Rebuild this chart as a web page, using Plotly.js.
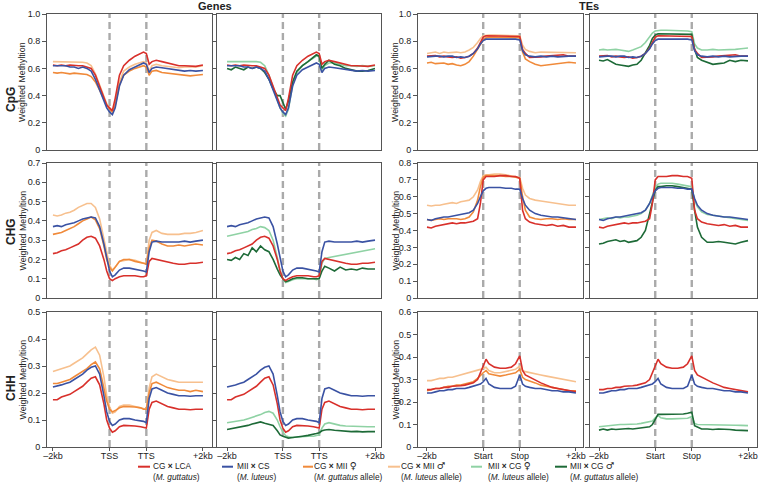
<!DOCTYPE html>
<html><head><meta charset="utf-8">
<script src="https://cdn.plot.ly/plotly-3.0.1.min.js"></script>
<style>html,body{margin:0;padding:0;background:#fff;} #chart{width:758px;height:483px;}</style>
</head><body><div id="chart"></div>
<script>
// ---------- x grids (bins: -2kb=0, TSS/Start=40, TTS/Stop=66, +2kb=106) ----------
const geneX = [0,3,6,9,12,15,18,21,24,27,30,33,36,38,40,42,44,47,50,54,58,62,64,66,68,70,73,77,81,85,89,93,97,101,106];
const teX   = [0,3,6,9,12,15,18,21,24,27,30,33,36,38,40,42,44,48,52,56,60,63,66,68,70,73,77,81,85,89,93,97,101,106];
const tickVals = [0,40,66,106];
const geneTickText = ['–2kb','TSS','TTS','+2kb'];
const teTickText = ['–2kb','Start','Stop','+2kb'];
const colTitles = ['Genes','TEs'];
const rowTitles = ['CpG','CHG','CHH'];

// ---------- Genes, CpG ----------
const gCpG_CGxLCA = [0.625,0.62,0.625,0.62,0.625,0.62,0.62,0.62,0.61,0.60,0.55,0.47,0.38,0.33,0.31,0.29,0.38,0.55,0.62,0.66,0.69,0.71,0.72,0.71,0.63,0.65,0.66,0.65,0.64,0.63,0.62,0.62,0.62,0.615,0.625];
const gCpG_MIIxCS = [0.62,0.62,0.615,0.62,0.61,0.61,0.60,0.61,0.60,0.58,0.52,0.44,0.35,0.31,0.28,0.26,0.31,0.47,0.55,0.59,0.61,0.63,0.64,0.63,0.57,0.60,0.61,0.605,0.60,0.59,0.585,0.58,0.585,0.58,0.585];
const gCpG_CGxMIIf = [0.57,0.565,0.57,0.565,0.56,0.565,0.56,0.56,0.555,0.54,0.50,0.44,0.37,0.33,0.30,0.28,0.33,0.48,0.55,0.58,0.60,0.615,0.62,0.61,0.55,0.58,0.585,0.57,0.565,0.56,0.555,0.55,0.545,0.55,0.555];
const gCpG_CGxMIIm = [0.65,0.65,0.65,0.65,0.645,0.65,0.65,0.645,0.64,0.62,0.56,0.48,0.39,0.34,0.31,0.28,0.34,0.50,0.58,0.61,0.63,0.645,0.65,0.64,0.58,0.62,0.63,0.62,0.615,0.61,0.605,0.61,0.61,0.61,0.62];
const gCpG_MIIxCGf = [0.65,0.65,0.655,0.65,0.65,0.655,0.65,0.65,0.645,0.62,0.55,0.46,0.37,0.31,0.27,0.25,0.30,0.48,0.57,0.62,0.65,0.68,0.69,0.69,0.58,0.62,0.64,0.64,0.63,0.62,0.62,0.615,0.62,0.615,0.62];
const gCpG_MIIxCGm = [0.60,0.59,0.61,0.60,0.59,0.61,0.60,0.61,0.60,0.57,0.52,0.45,0.40,0.40,0.35,0.30,0.36,0.50,0.58,0.62,0.65,0.68,0.70,0.69,0.60,0.63,0.66,0.63,0.62,0.60,0.59,0.58,0.58,0.585,0.60];

// ---------- Genes, CHG ----------
const gCHG_CGxLCA = [0.23,0.235,0.245,0.25,0.26,0.27,0.28,0.30,0.315,0.32,0.31,0.27,0.20,0.14,0.10,0.09,0.10,0.11,0.115,0.115,0.115,0.11,0.11,0.115,0.19,0.205,0.20,0.19,0.185,0.18,0.175,0.175,0.18,0.18,0.185];
const gCHG_MIIxCS = [0.37,0.375,0.37,0.38,0.385,0.39,0.40,0.41,0.415,0.42,0.415,0.37,0.28,0.20,0.14,0.11,0.12,0.145,0.155,0.155,0.15,0.145,0.14,0.135,0.24,0.29,0.295,0.29,0.29,0.29,0.29,0.295,0.29,0.295,0.30];
const gCHG_CGxMIIf = [0.33,0.335,0.34,0.35,0.36,0.37,0.385,0.40,0.41,0.42,0.405,0.36,0.27,0.20,0.16,0.14,0.16,0.19,0.20,0.20,0.19,0.185,0.18,0.175,0.26,0.30,0.295,0.28,0.27,0.27,0.275,0.27,0.275,0.28,0.275];
const gCHG_CGxMIIm = [0.43,0.425,0.43,0.44,0.445,0.455,0.47,0.48,0.49,0.49,0.47,0.41,0.31,0.23,0.17,0.145,0.16,0.19,0.195,0.20,0.195,0.185,0.18,0.18,0.30,0.34,0.35,0.335,0.33,0.33,0.33,0.335,0.335,0.34,0.35];
const gCHG_MIIxCGf = [0.32,0.325,0.33,0.335,0.34,0.345,0.355,0.36,0.37,0.365,0.35,0.30,0.21,0.14,0.10,0.08,0.085,0.095,0.10,0.10,0.10,0.10,0.095,0.10,0.18,0.205,0.21,0.215,0.22,0.225,0.23,0.235,0.24,0.245,0.255];
const gCHG_MIIxCGm = [0.20,0.195,0.21,0.20,0.23,0.22,0.26,0.24,0.27,0.25,0.24,0.20,0.15,0.12,0.10,0.085,0.09,0.10,0.105,0.105,0.10,0.10,0.10,0.10,0.14,0.165,0.155,0.14,0.16,0.145,0.15,0.145,0.155,0.15,0.15];

// ---------- Genes, CHH ----------
const gCHH_CGxLCA = [0.175,0.175,0.185,0.19,0.195,0.205,0.215,0.225,0.24,0.255,0.26,0.23,0.16,0.10,0.07,0.055,0.06,0.075,0.08,0.08,0.078,0.075,0.072,0.07,0.14,0.165,0.17,0.16,0.15,0.145,0.14,0.14,0.138,0.14,0.14];
const gCHH_MIIxCS = [0.222,0.225,0.23,0.235,0.24,0.25,0.26,0.27,0.285,0.295,0.30,0.27,0.19,0.13,0.095,0.08,0.085,0.10,0.105,0.105,0.10,0.098,0.095,0.09,0.18,0.215,0.22,0.21,0.20,0.195,0.19,0.19,0.188,0.19,0.19];
const gCHH_CGxMIIf = [0.235,0.235,0.24,0.245,0.25,0.26,0.27,0.28,0.29,0.305,0.315,0.29,0.22,0.17,0.14,0.13,0.135,0.145,0.15,0.15,0.148,0.145,0.14,0.14,0.20,0.235,0.24,0.23,0.22,0.215,0.21,0.21,0.205,0.21,0.205];
const gCHH_CGxMIIm = [0.28,0.285,0.29,0.295,0.30,0.31,0.32,0.33,0.345,0.36,0.37,0.34,0.26,0.19,0.15,0.125,0.13,0.15,0.155,0.155,0.15,0.145,0.142,0.14,0.22,0.26,0.27,0.26,0.25,0.245,0.24,0.24,0.24,0.24,0.24];
const gCHH_MIIxCGf = [0.09,0.092,0.095,0.098,0.10,0.105,0.11,0.115,0.12,0.128,0.132,0.125,0.10,0.075,0.055,0.042,0.038,0.035,0.037,0.038,0.04,0.04,0.042,0.045,0.07,0.085,0.09,0.085,0.08,0.078,0.077,0.075,0.075,0.075,0.075];
const gCHH_MIIxCGm = [0.065,0.068,0.07,0.072,0.075,0.08,0.085,0.09,0.093,0.088,0.085,0.08,0.06,0.045,0.04,0.035,0.033,0.035,0.038,0.04,0.043,0.046,0.05,0.053,0.06,0.063,0.065,0.062,0.06,0.058,0.057,0.058,0.056,0.057,0.057];

// ---------- TEs, CpG ----------
const tCpG_CGxLCA = [0.69,0.69,0.695,0.685,0.69,0.685,0.68,0.685,0.675,0.68,0.69,0.71,0.75,0.79,0.83,0.84,0.84,0.84,0.84,0.84,0.84,0.84,0.835,0.74,0.71,0.68,0.68,0.685,0.69,0.695,0.70,0.70,0.69,0.69];
const tCpG_MIIxCS = [0.685,0.69,0.69,0.69,0.685,0.69,0.69,0.68,0.685,0.68,0.69,0.71,0.745,0.78,0.805,0.815,0.815,0.815,0.815,0.82,0.815,0.815,0.81,0.73,0.70,0.69,0.685,0.69,0.685,0.69,0.685,0.69,0.69,0.69];
const tCpG_CGxMIIf = [0.64,0.645,0.635,0.64,0.64,0.63,0.635,0.625,0.62,0.63,0.65,0.69,0.74,0.78,0.81,0.825,0.83,0.83,0.83,0.83,0.83,0.83,0.825,0.72,0.67,0.65,0.63,0.62,0.625,0.63,0.635,0.64,0.645,0.64];
const tCpG_CGxMIIm = [0.71,0.715,0.72,0.71,0.72,0.715,0.72,0.72,0.715,0.72,0.735,0.755,0.79,0.82,0.84,0.845,0.845,0.845,0.845,0.845,0.845,0.845,0.84,0.77,0.74,0.725,0.715,0.72,0.72,0.715,0.72,0.715,0.72,0.715];
const tCpG_MIIxCGf = [0.735,0.74,0.735,0.74,0.74,0.735,0.73,0.725,0.735,0.745,0.76,0.79,0.83,0.86,0.875,0.88,0.88,0.88,0.88,0.88,0.875,0.875,0.87,0.78,0.75,0.735,0.735,0.74,0.735,0.735,0.735,0.74,0.745,0.75];
const tCpG_MIIxCGm = [0.66,0.655,0.665,0.645,0.63,0.625,0.62,0.615,0.625,0.63,0.66,0.71,0.77,0.82,0.845,0.855,0.855,0.855,0.855,0.855,0.855,0.85,0.85,0.74,0.68,0.66,0.645,0.63,0.635,0.64,0.66,0.65,0.66,0.655];

// ---------- TEs, CHG ----------
const tCHG_CGxLCA = [0.42,0.415,0.425,0.43,0.435,0.44,0.445,0.44,0.445,0.445,0.45,0.455,0.47,0.56,0.70,0.72,0.72,0.72,0.725,0.725,0.72,0.72,0.71,0.52,0.47,0.45,0.44,0.435,0.43,0.435,0.425,0.43,0.42,0.42];
const tCHG_MIIxCS = [0.465,0.46,0.47,0.475,0.48,0.48,0.485,0.49,0.495,0.50,0.505,0.52,0.56,0.60,0.635,0.65,0.655,0.655,0.655,0.65,0.65,0.645,0.645,0.59,0.55,0.52,0.50,0.49,0.485,0.48,0.48,0.475,0.47,0.465];
const tCHG_CGxMIIf = [0.465,0.46,0.465,0.47,0.465,0.47,0.47,0.47,0.465,0.47,0.48,0.51,0.58,0.66,0.715,0.725,0.725,0.725,0.725,0.72,0.72,0.715,0.71,0.60,0.52,0.48,0.47,0.465,0.47,0.47,0.465,0.47,0.465,0.465];
const tCHG_CGxMIIm = [0.55,0.545,0.55,0.55,0.555,0.56,0.565,0.56,0.57,0.575,0.58,0.60,0.64,0.69,0.725,0.73,0.73,0.735,0.735,0.73,0.725,0.72,0.715,0.65,0.61,0.59,0.58,0.575,0.57,0.565,0.56,0.555,0.55,0.55];
const tCHG_MIIxCGf = [0.465,0.47,0.475,0.47,0.48,0.475,0.48,0.48,0.485,0.49,0.50,0.52,0.56,0.61,0.655,0.675,0.68,0.68,0.68,0.675,0.67,0.665,0.66,0.58,0.54,0.51,0.495,0.49,0.485,0.48,0.475,0.47,0.465,0.46];
const tCHG_MIIxCGm = [0.32,0.325,0.335,0.34,0.345,0.335,0.34,0.33,0.335,0.34,0.36,0.40,0.50,0.58,0.64,0.66,0.66,0.665,0.665,0.66,0.655,0.65,0.645,0.52,0.42,0.36,0.33,0.33,0.335,0.33,0.325,0.32,0.33,0.34];

// ---------- TEs, CHH ----------
const tCHH_CGxLCA = [0.255,0.255,0.26,0.26,0.265,0.265,0.27,0.27,0.272,0.275,0.28,0.285,0.30,0.33,0.36,0.39,0.37,0.355,0.35,0.35,0.355,0.37,0.405,0.34,0.32,0.31,0.30,0.285,0.275,0.265,0.26,0.255,0.25,0.245];
const tCHH_MIIxCS = [0.24,0.24,0.245,0.25,0.25,0.255,0.255,0.26,0.26,0.26,0.265,0.27,0.275,0.28,0.29,0.305,0.28,0.265,0.26,0.26,0.26,0.27,0.32,0.28,0.27,0.265,0.26,0.26,0.255,0.25,0.25,0.245,0.245,0.24];
const tCHH_CGxMIIf = [0.25,0.255,0.26,0.26,0.265,0.27,0.27,0.275,0.275,0.28,0.285,0.29,0.305,0.32,0.33,0.34,0.325,0.32,0.315,0.32,0.325,0.33,0.345,0.31,0.30,0.295,0.285,0.275,0.27,0.265,0.26,0.255,0.25,0.25];
const tCHH_CGxMIIm = [0.295,0.295,0.30,0.305,0.305,0.31,0.31,0.315,0.32,0.325,0.33,0.335,0.34,0.345,0.35,0.355,0.34,0.33,0.33,0.335,0.34,0.345,0.36,0.34,0.335,0.33,0.325,0.32,0.315,0.31,0.305,0.30,0.295,0.29];
const tCHH_MIIxCGf = [0.09,0.092,0.095,0.097,0.10,0.10,0.10,0.10,0.10,0.102,0.105,0.108,0.11,0.115,0.13,0.14,0.13,0.125,0.125,0.125,0.126,0.128,0.135,0.105,0.10,0.10,0.10,0.10,0.10,0.10,0.098,0.097,0.096,0.095];
const tCHH_MIIxCGm = [0.075,0.08,0.075,0.08,0.078,0.08,0.08,0.082,0.08,0.082,0.085,0.087,0.09,0.10,0.125,0.145,0.145,0.145,0.147,0.145,0.147,0.15,0.155,0.095,0.09,0.08,0.08,0.078,0.08,0.08,0.078,0.075,0.075,0.073];

// ---------- series meta ----------
const FEM = '<span style="font-family:DejaVu Sans;font-size:9.5px">♀</span>';
const MAL = '<span style="font-family:DejaVu Sans;font-size:9.5px">♂</span>';
const seriesLabels = ['CG <b>×</b> LCA','MII <b>×</b> CS','CG <b>×</b> MII '+FEM,'CG <b>×</b> MII '+MAL,'MII <b>×</b> CG '+FEM,'MII <b>×</b> CG '+MAL];
const seriesSubLabels = ['(<i>M. guttatus</i>)','(<i>M. luteus</i>)','(<i>M. guttatus</i> allele)','(<i>M. luteus</i> allele)','(<i>M. luteus</i> allele)','(<i>M. guttatus</i> allele)'];
const colors = ['#d8302b','#3a52a3','#f08a3a','#f7c08e','#8fd2a4','#1d6a37'];

const yMax = [[1.0,1.0],[0.7,0.8],[0.5,0.6]];
const yStep = [[0.2,0.2],[0.1,0.1],[0.1,0.1]];
const data = {
  g: [
    [gCpG_CGxLCA,gCpG_MIIxCS,gCpG_CGxMIIf,gCpG_CGxMIIm,gCpG_MIIxCGf,gCpG_MIIxCGm],
    [gCHG_CGxLCA,gCHG_MIIxCS,gCHG_CGxMIIf,gCHG_CGxMIIm,gCHG_MIIxCGf,gCHG_MIIxCGm],
    [gCHH_CGxLCA,gCHH_MIIxCS,gCHH_CGxMIIf,gCHH_CGxMIIm,gCHH_MIIxCGf,gCHH_MIIxCGm]],
  t: [
    [tCpG_CGxLCA,tCpG_MIIxCS,tCpG_CGxMIIf,tCpG_CGxMIIm,tCpG_MIIxCGf,tCpG_MIIxCGm],
    [tCHG_CGxLCA,tCHG_MIIxCS,tCHG_CGxMIIf,tCHG_CGxMIIm,tCHG_MIIxCGf,tCHG_MIIxCGm],
    [tCHH_CGxLCA,tCHH_MIIxCS,tCHH_CGxMIIf,tCHH_CGxMIIm,tCHH_MIIxCGf,tCHH_MIIxCGm]]
};

const W = 758, H = 483;
const px = x => x / W, py = y => 1 - y / H;
const colPx = [[47,212],[217,381],[418,583],[590,757]];
const rowPx = [[14,150],[163,298],[312,447]];
const xRanges = [[-4.2,112.4],[-7.2,110.3],[-6.4,111],[-6.4,112.4]];
const orderA = [3,2,0,1];
const orderB = [4,5,0,1];

const traces = [];
const layout = {
  width: W, height: H, margin: {l:0,r:0,t:0,b:0},
  paper_bgcolor: '#fff', plot_bgcolor: '#fff',
  showlegend: false, hovermode: false,
  font: {family: 'Liberation Sans, Arial, sans-serif', color: '#222', size: 9},
  shapes: [], annotations: []
};
const fmt = v => v === 0 ? '0' : v.toFixed(1);

for (let r = 0; r < 3; r++) {
  for (let c = 0; c < 4; c++) {
    const n = r * 4 + c + 1;
    const sfx = n === 1 ? '' : String(n);
    const kind = c < 2 ? 'g' : 't';
    const kIdx = c < 2 ? 0 : 1;
    const xs = kind === 'g' ? geneX : teX;
    const order = (c % 2 === 0) ? orderA : orderB;
    order.forEach(si => {
      traces.push({
        type: 'scatter', mode: 'lines', x: xs, y: data[kind][r][si],
        xaxis: 'x' + sfx, yaxis: 'y' + sfx,
        line: {color: colors[si], width: 1.6}, name: seriesLabels[si]
      });
    });
    const ym = yMax[r][kIdx], st = yStep[r][kIdx];
    const tv = [], tt = [];
    for (let v = 0; v <= ym + 1e-9; v += st) { tv.push(+v.toFixed(2)); tt.push(fmt(+v.toFixed(2))); }
    const bottom = r === 2;
    layout['xaxis' + sfx] = {
      domain: [px(colPx[c][0]), px(colPx[c][1])], anchor: 'y' + sfx,
      range: xRanges[c], showgrid: false, zeroline: false,
      showline: true, mirror: true, linecolor: '#555', linewidth: 1,
      tickmode: 'array', tickvals: tickVals,
      ticktext: kind === 'g' ? geneTickText : teTickText,
      ticks: bottom ? 'outside' : '', ticklen: 3, tickcolor: '#555',
      ticklabelstandoff: -3,
      showticklabels: bottom, tickfont: {size: 9, color: '#222'}
    };
    layout['yaxis' + sfx] = {
      domain: [py(rowPx[r][1]), py(rowPx[r][0])], anchor: 'x' + sfx,
      range: [0, ym], showgrid: false, zeroline: false,
      showline: true, mirror: true, linecolor: '#555', linewidth: 1,
      tickmode: 'array', tickvals: tv, ticktext: tt,
      ticks: 'outside', ticklen: 4, tickcolor: '#555',
      showticklabels: (c % 2 === 0), tickfont: {size: 9, color: '#222'}
    };
    tickVals.slice(1, 3).forEach(xv => {
      layout.shapes.push({type: 'line', xref: 'x' + sfx, yref: 'y' + sfx + ' domain',
        x0: xv, x1: xv, y0: 0, y1: 1, layer: 'below',
        line: {color: '#aaaaaa', width: 2.4, dash: '7px,4px'}});
    });
  }
}

layout.annotations.push({xref:'paper',yref:'paper',x:px(215),y:py(6),text:'<b>'+colTitles[0]+'</b>',showarrow:false,font:{size:11,color:'#222'},xanchor:'center',yanchor:'middle'});
layout.annotations.push({xref:'paper',yref:'paper',x:px(589),y:py(6),text:'<b>'+colTitles[1]+'</b>',showarrow:false,font:{size:11,color:'#222'},xanchor:'center',yanchor:'middle'});
const rowLabelY = [100,232,388];
for (let r = 0; r < 3; r++) {
  layout.annotations.push({xref:'paper',yref:'paper',x:px(11),y:py(rowLabelY[r]),text:'<b>'+rowTitles[r]+'</b>',textangle:-90,showarrow:false,font:{size:12,color:'#222'},xanchor:'center',yanchor:'middle'});
  const yc = (rowPx[r][0] + rowPx[r][1]) / 2;
  [22, 395].forEach(xx => {
    layout.annotations.push({xref:'paper',yref:'paper',x:px(xx),y:py(yc),text:'Weighted Methyltion',textangle:-90,showarrow:false,font:{size:8.8,color:'#222'},xanchor:'center',yanchor:'middle'});
  });
}
const legSw = [[138,150],[222,233],[303,313],[388,400],[471,482],[555,567]];
const legTx = [152,236,313,400,487,569];
for (let i = 0; i < 6; i++) {
  layout.shapes.push({type:'line',xref:'paper',yref:'paper',x0:px(legSw[i][0]),x1:px(legSw[i][1]),y0:py(466.7),y1:py(466.7),line:{color:colors[i],width:2}});
  layout.annotations.push({xref:'paper',yref:'paper',x:px(legTx[i]),y:py(471.2),text:seriesLabels[i]+'<br>'+seriesSubLabels[i],align:'left',showarrow:false,borderpad:0,font:{size:8.3,color:'#222'},xanchor:'left',yanchor:'middle'});
}

Plotly.newPlot('chart', traces, layout, {displayModeBar: false, staticPlot: true});
</script>
</body></html>
